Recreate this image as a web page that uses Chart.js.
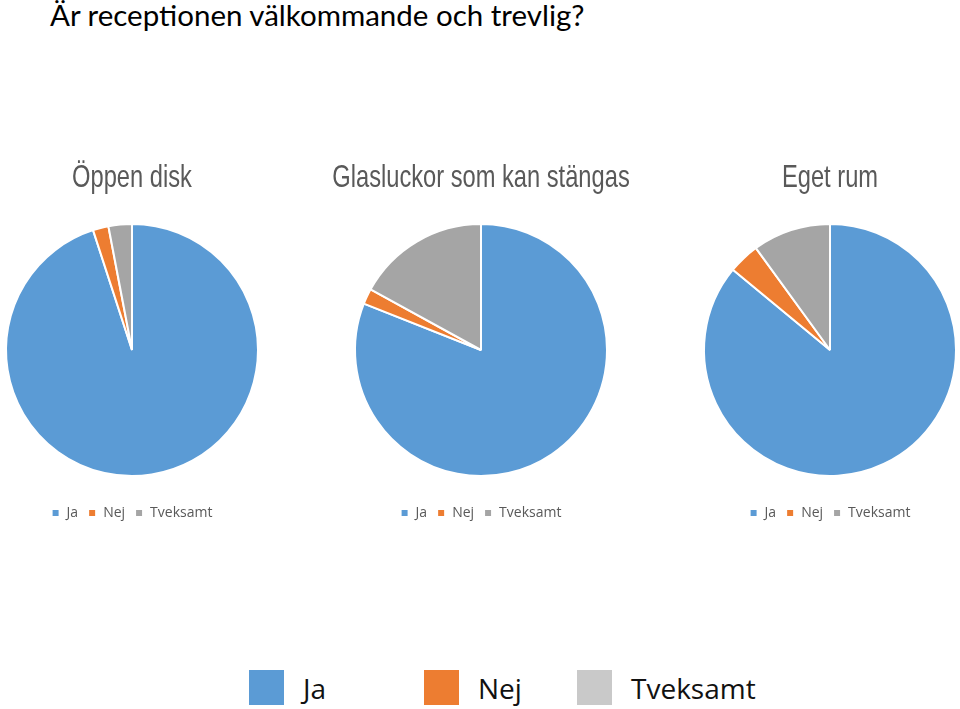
<!DOCTYPE html>
<html>
<head>
<meta charset="utf-8">
<script src="https://cdn.jsdelivr.net/npm/chart.js@4.4.0/dist/chart.umd.min.js"></script>
<style>
  body { margin: 0; background: #fff; width: 960px; height: 709px; position: relative; overflow: hidden; }
  #mainTitle { position: absolute; left: 50px; top: -3px; font: 29.5px Lato, sans-serif; color: #000; white-space: nowrap; }
  .pie { position: absolute; top: 150px; }
  #bigLegend { position: absolute; top: 670px; left: 0; width: 960px; height: 39px; }
  .item { position: absolute; top: 0; height: 35px; display: flex; align-items: center; font: 28px "Open Sans", sans-serif; color: #111; }
  .swatch { width: 35px; height: 35px; margin-right: 19px; }
</style>
</head>
<body>
<div id="mainTitle">Är receptionen välkommande och trevlig?</div>
<canvas id="pie1" class="pie" width="340" height="380" style="left:-38px"></canvas>
<canvas id="pie2" class="pie" width="340" height="380" style="left:311px"></canvas>
<canvas id="pie3" class="pie" width="340" height="380" style="left:660px"></canvas>
<div id="bigLegend"></div>
<script>
// data
const categories = ["Ja", "Nej", "Tveksamt"];
const panelTitles = ["Öppen disk", "Glasluckor som kan stängas", "Eget rum"];
const oppenDisk = [95, 2, 3];
const glasluckor = [81, 2, 17];
const egetRum = [86, 4, 10];

const sliceColors = ["#5b9bd5", "#ed7d31", "#a5a5a5"];
const legendColors = ["#5b9bd5", "#ed7d31", "#c9c9c9"];

// the panel titles are a tall, narrow face; draw them squeezed horizontally
const squeezedTitle = {
    id: "squeezedTitle",
    afterDraw(chart, args, opts) {
        const ctx = chart.ctx;
        const cx = (chart.chartArea.left + chart.chartArea.right) / 2;
        ctx.save();
        ctx.font = opts.size + "px " + opts.family;
        ctx.fillStyle = opts.color;
        ctx.textAlign = "center";
        ctx.textBaseline = "alphabetic";
        ctx.translate(cx, opts.baseline);
        ctx.scale(opts.squeeze, 1);
        ctx.fillText(opts.text, 0, 0);
        ctx.restore();
    }
};

function makePie(id, title, values) {
    return new Chart(document.getElementById(id), {
        type: "pie",
        data: {
            labels: categories,
            datasets: [{
                data: values,
                backgroundColor: sliceColors,
                borderColor: "#fff",
                borderWidth: 2,
                radius: 126
            }]
        },
        plugins: [squeezedTitle],
        options: {
            responsive: false,
            animation: false,
            layout: { padding: { top: 54 } },
            plugins: {
                squeezedTitle: {
                    text: title,
                    color: "#595959",
                    family: "'Liberation Sans', Arial, sans-serif",
                    size: 32,
                    squeeze: 0.74,
                    baseline: 37
                },
                legend: {
                    position: "bottom",
                    labels: {
                        boxWidth: 8,
                        boxHeight: 8,
                        padding: 10,
                        color: "#595959",
                        font: { family: "'Open Sans', sans-serif", size: 14 }
                    }
                },
                tooltip: { enabled: false }
            }
        }
    });
}

makePie("pie1", panelTitles[0], oppenDisk);
makePie("pie2", panelTitles[1], glasluckor);
makePie("pie3", panelTitles[2], egetRum);

// shared legend at the bottom
const legendX = [249, 424, 577];
const bigLegend = document.getElementById("bigLegend");
categories.forEach((name, i) => {
    const item = document.createElement("div");
    item.className = "item";
    item.style.left = legendX[i] + "px";
    const sw = document.createElement("div");
    sw.className = "swatch";
    sw.style.background = legendColors[i];
    const label = document.createElement("span");
    label.textContent = name;
    item.appendChild(sw);
    item.appendChild(label);
    bigLegend.appendChild(item);
});
</script>
</body>
</html>
